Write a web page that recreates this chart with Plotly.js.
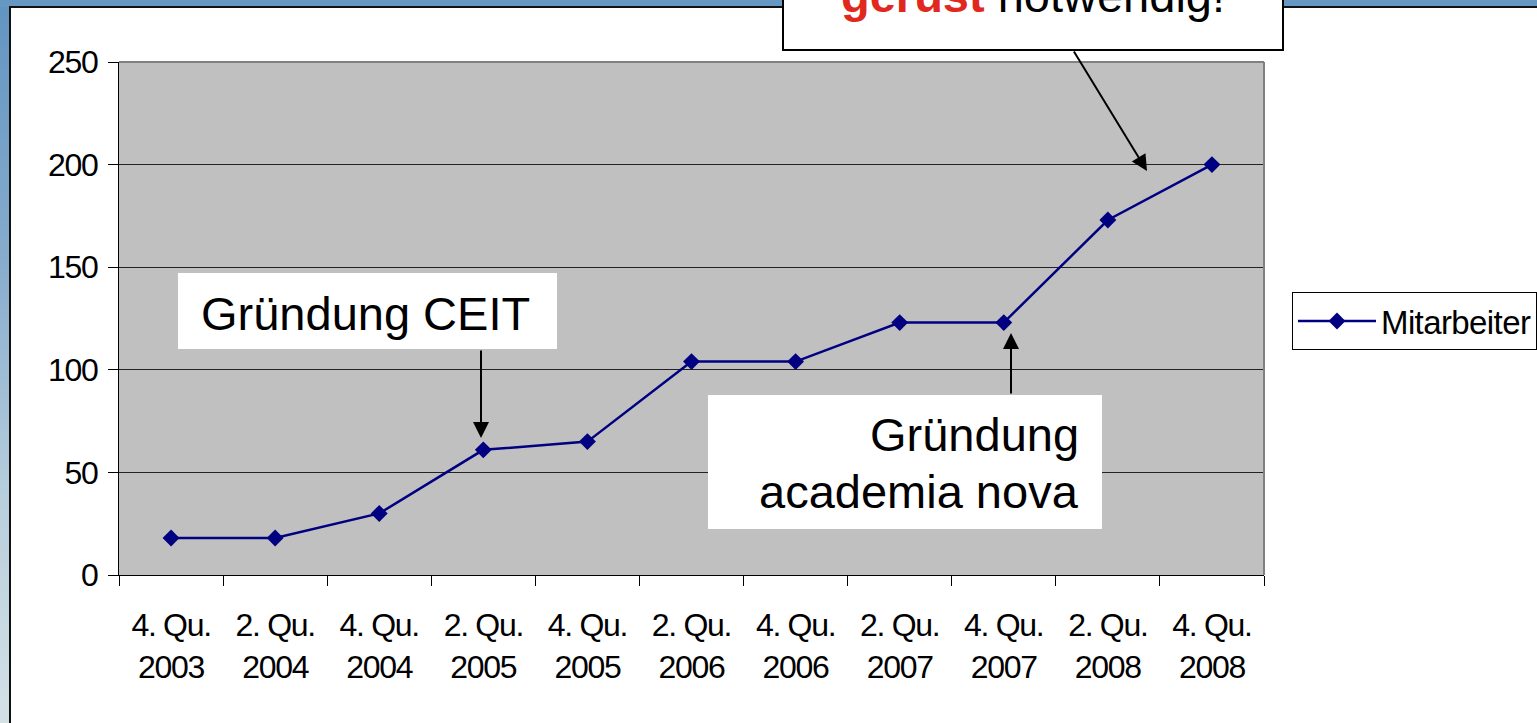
<!DOCTYPE html>
<html><head><meta charset="utf-8">
<script src="https://cdn.plot.ly/plotly-3.0.1.min.js"></script>
<style>
html,body{margin:0;padding:0;width:1537px;height:723px;overflow:hidden;}
body{position:relative;background:linear-gradient(to bottom,#6194c1 0%,#86abcd 35%,#b9cfdd 70%,#d3e1e5 100%);}
#topbar{position:absolute;left:0;top:0;width:1537px;height:7px;background:#6797c3;}
#panel{position:absolute;left:9px;top:6px;width:1528px;height:717px;background:#fff;border-left:2px solid #111;border-top:2px solid #111;box-sizing:border-box;}
#chart{position:absolute;left:0;top:0;width:1537px;height:723px;}
.xtick text,.ytick text{letter-spacing:-1.3px;}
.legendtext{letter-spacing:-0.6px;}
</style>
</head><body>
<div id="topbar"></div>
<div id="panel"></div>
<div id="chart"></div>
<script>
// ---- data ----
const quarters = ['4. Qu.','2. Qu.','4. Qu.','2. Qu.','4. Qu.','2. Qu.','4. Qu.','2. Qu.','4. Qu.','2. Qu.','4. Qu.'];
const years    = ['2003','2004','2004','2005','2005','2006','2006','2007','2007','2008','2008'];
const mitarbeiter = [18,18,30,61,65,104,104,123,123,173,200];
const seriesName = 'Mitarbeiter';

const categories = quarters.map((q,i)=>q+'<br>'+years[i]);

// pixel -> paper helpers for annotation boxes
const L=119, R=1264, T=62, B=575;
const px=(x)=>(x-L)/(R-L);
const py=(y)=>(B-y)/(B-T);

const FONT='"Liberation Sans", Arial, Helvetica, sans-serif';

const trace = {
  x: categories, y: mitarbeiter, name: seriesName, type:'scatter', mode:'lines+markers',
  line:{color:'#000080', width:2.5},
  marker:{symbol:'diamond', size:13, color:'#000080'},
  cliponaxis:false
};

const boxes = [
  {x0:178,x1:557,y0:273,y1:349, line:0},
  {x0:708,x1:1102,y0:395,y1:529, line:0},
  {x0:783,x1:1283,y0:-80,y1:50, line:2}
];

const shapes = boxes.map(b=>({
  type:'rect', xref:'paper', yref:'paper', layer:'above',
  x0:px(b.x0), x1:px(b.x1), y0:py(b.y1), y1:py(b.y0),
  fillcolor:'#ffffff', line:{color:'#000', width:b.line}
}));
// plot-area border (top & right, gray)
shapes.push({type:'line',xref:'paper',yref:'paper',x0:0,x1:1,y0:1,y1:1,layer:'above',line:{color:'#808080',width:2}});
shapes.push({type:'line',xref:'paper',yref:'paper',x0:1,x1:1,y0:0,y1:1,layer:'above',line:{color:'#808080',width:2}});

const textAnn = (text,x,y,xanchor)=>({
  text:text, xref:'paper', yref:'paper', x:px(x), y:py(y), xanchor:xanchor, yanchor:'middle',
  showarrow:false, font:{family:FONT,size:47,color:'#000'}, borderpad:0
});
const arrowAnn = (hx,hy,tx,ty)=>({
  text:'', xref:'paper', yref:'paper', x:px(hx), y:py(hy), ax:tx-hx, ay:ty-hy,
  showarrow:true, arrowhead:2, arrowsize:1.6, arrowwidth:2, arrowcolor:'#000', standoff:0, startstandoff:0
});

const annotations = [
  textAnn('Gründung CEIT', 365, 313, 'center'),
  textAnn('Gründung', 1080, 434, 'right'),
  textAnn('academia nova', 1080, 491, 'right'),
  textAnn('<b><span style="color:#e0281e">gerüst</span></b> notwendig!', 1033, -4, 'center'),
  arrowAnn(481,438,481,349),
  arrowAnn(1011,333,1011,395),
  arrowAnn(1147,171,1073,50)
];

const layout = {
  width:1537, height:723,
  paper_bgcolor:'rgba(0,0,0,0)', plot_bgcolor:'#c0c0c0',
  margin:{l:L, r:1537-R, t:T, b:723-B, pad:0, autoexpand:false},
  font:{family:FONT, size:32, color:'#000'},
  showlegend:true,
  xaxis:{type:'category', range:[-0.5,10.5], tickson:'boundaries', ticks:'outside', ticklen:10, tickwidth:1, tickcolor:'#000',
         showline:true, linecolor:'#000', linewidth:1, showgrid:false, zeroline:false, tickfont:{size:32}, tickangle:0,
         ticklabelstandoff:22, fixedrange:true},
  yaxis:{range:[0,250], dtick:50, tick0:0, ticks:'outside', ticklen:10, tickwidth:1, tickcolor:'#000',
         showline:true, linecolor:'#000', linewidth:1, showgrid:true, gridcolor:'#222', gridwidth:1, zeroline:false,
         tickfont:{size:32}, ticklabelstandoff:4, fixedrange:true},
  legend:{x:px(1292), y:py(292), xanchor:'left', yanchor:'top', bordercolor:'#000', borderwidth:1, bgcolor:'#fff',
          font:{size:33}, itemwidth:78},
  shapes:shapes, annotations:annotations
};

Plotly.newPlot('chart',[trace],layout,{displayModeBar:false, staticPlot:true});
</script>
</body></html>
